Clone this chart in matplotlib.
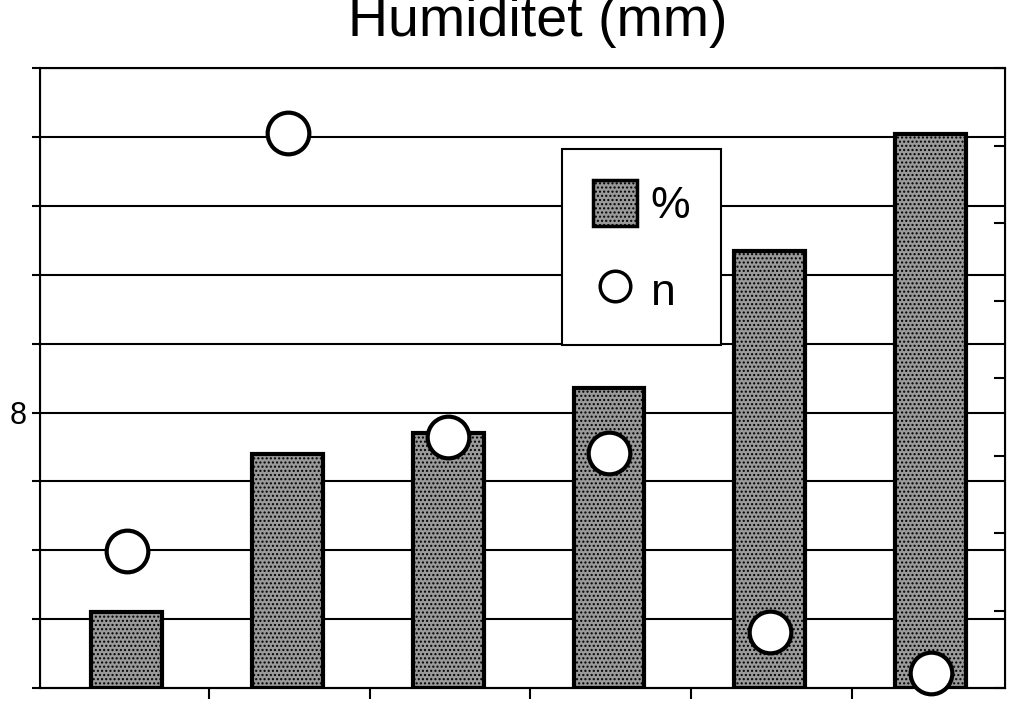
import matplotlib.pyplot as plt
from matplotlib.lines import Line2D
from matplotlib.patches import Patch

plt.rcParams['font.family'] = ['Liberation Sans', 'DejaVu Sans']

groups = [1, 2, 3, 4, 5, 6]
pct = [2.2, 6.8, 7.4, 8.7, 12.7, 16.1]      # left axis
n_vals = [1.77, 7.16, 3.24, 3.03, 0.72, 0.19]  # right axis

fig = plt.figure(figsize=(10.24, 7.06), dpi=100)
ax = fig.add_axes([0.039, 0.0255, 0.942, 0.878])
x = [i + 0.04 for i in range(len(groups))]
ax.bar(x, pct, width=0.44, color='#9a9a9a', edgecolor='black', linewidth=3,
       hatch='....', zorder=3)
ax.set_xlim(-0.5, 5.5)
ax.set_ylim(0, 18)
ax.set_yticks(range(0, 19, 2))
ax.set_yticklabels(['' if v != 8 else '8' for v in range(0, 19, 2)], fontsize=22)
ax.grid(axis='y', color='black', linewidth=1.5, zorder=0)
ax.set_xticks([0.55, 1.55, 2.55, 3.55, 4.55])
ax.set_xticklabels([])
ax.tick_params(axis='x', direction='out', length=8, width=1.5)
ax.tick_params(axis='y', direction='out', length=6, width=1.5)
for s in ax.spines.values():
    s.set_linewidth(1.5)

ax2 = ax.twinx()
ax2.set_ylim(0, 8)
ax2.set_yticks(range(9))
ax2.set_yticklabels([])
ax2.tick_params(axis='y', direction='in', length=8, width=1.5)
ax2.plot(x, n_vals, 'o', markersize=30, markerfacecolor='white',
         markeredgecolor='black', markeredgewidth=3, zorder=5, clip_on=False)

handles = [Patch(facecolor='#9a9a9a', edgecolor='black', hatch='....', linewidth=2.5),
           Line2D([], [], marker='o', linestyle='', markersize=22,
                  markerfacecolor='white', markeredgecolor='black', markeredgewidth=2.5)]
leg = ax2.legend(handles, ['%', 'n'], loc='upper left', bbox_to_anchor=(0.518, 0.905),
                 fontsize=32, frameon=True, fancybox=False, handlelength=1.0,
                 handleheight=1.2, labelspacing=0.9, borderpad=0.7,
                 handletextpad=0.3, framealpha=1)
leg.get_frame().set_edgecolor('black')
leg.get_frame().set_linewidth(1.5)

fig.text(0.525, 1.005, 'Humiditet (mm)', ha='center', va='top', fontsize=40)
fig.savefig('out.png')
